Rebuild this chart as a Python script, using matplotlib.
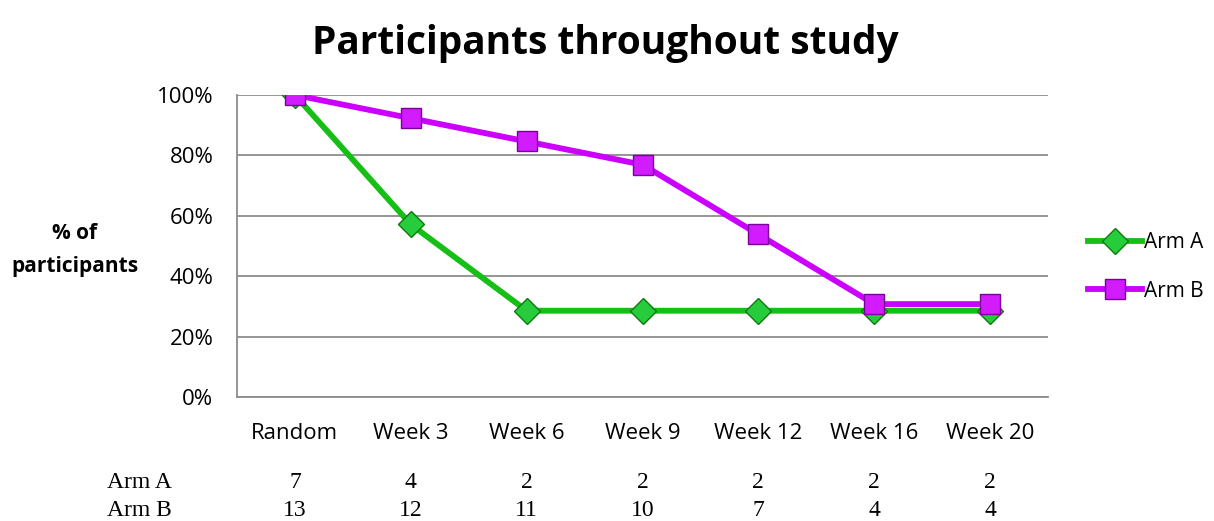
import numpy as np
import matplotlib
matplotlib.use("Agg")
import matplotlib.pyplot as plt
from matplotlib.lines import Line2D

# participant counts per visit
visits = ["Random", "Week 3", "Week 6", "Week 9", "Week 12", "Week 16", "Week 20"]
arm_a = [7, 4, 2, 2, 2, 2, 2]
arm_b = [13, 12, 11, 10, 7, 4, 4]

# share of the randomised group still in the study
pct_a = np.array(arm_a) / arm_a[0] * 100
pct_b = np.array(arm_b) / arm_b[0] * 100

GREEN = "#16BF16"
MAGENTA = "#CC00FF"
SANS = ["Open Sans", "DejaVu Sans"]
SERIF = ["Liberation Serif", "DejaVu Serif"]

W, H = 1214, 521
fig = plt.figure(figsize=(W / 100, H / 100), dpi=100)
ax = fig.add_axes([237 / W, 1 - 397 / H, 811 / W, 302 / H])

style_a = dict(color=GREEN, lw=4.2, marker="D", ms=13,
               mfc="#26CC3C", mec="#0E7A0E", mew=1.0)
style_b = dict(color=MAGENTA, lw=4.2, marker="s", ms=14,
               mfc="#D21CFF", mec="#7A0099", mew=1.0)

x = np.arange(len(visits)) + 0.5
ax.plot(x, pct_a, zorder=3, **style_a)
ax.plot(x, pct_b, zorder=4, **style_b)

ax.set_xlim(0, len(visits))
ax.set_ylim(0, 100)
ax.set_yticks(np.arange(0, 101, 20))
ax.set_yticklabels([f"{v}%" for v in range(0, 101, 20)], fontsize=16, family=SANS)
ax.set_xticks(x)
ax.set_xticklabels(visits, fontsize=16, family=SANS)
ax.tick_params(length=0)
ax.tick_params(axis="y", pad=17)
ax.tick_params(axis="x", pad=19)
ax.grid(axis="y", color="#8C8C8C", lw=1.3)
ax.set_axisbelow(True)
for side in ["top", "right"]:
    ax.spines[side].set_visible(False)
for side in ["left", "bottom"]:
    ax.spines[side].set_color("#8C8C8C")
    ax.spines[side].set_linewidth(1.3)

fig.text(605 / W, 1 - 54 / H, "Participants throughout study",
         ha="center", va="baseline", fontsize=28, fontweight="bold", family=SANS)
fig.text(75 / W, 1 - 250 / H, "% of\nparticipants", ha="center", va="center",
         fontsize=15, fontweight="bold", family=SANS, linespacing=1.75)

# legend
handles = [Line2D([], [], **style_a), Line2D([], [], **style_b)]
fig.legend(handles, ["Arm A", "Arm B"], loc="center left",
           bbox_to_anchor=(1069 / W, 1 - 267 / H), frameon=False,
           prop={"family": SANS, "size": 15}, handlelength=2.6,
           handletextpad=0.1, labelspacing=1.3)

# counts table under the axis
for label, counts, ypix in [("Arm A", arm_a, 482), ("Arm B", arm_b, 511)]:
    yf = 1 - ypix / H
    fig.text(107 / W, yf, label, ha="left", va="center", fontsize=17, family=SERIF)
    for xi, c in zip(x, counts):
        xf = (237 + xi / len(visits) * 811) / W
        fig.text(xf, yf, str(c), ha="center", va="center", fontsize=17, family=SERIF)

fig.savefig("out.png", dpi=100)
